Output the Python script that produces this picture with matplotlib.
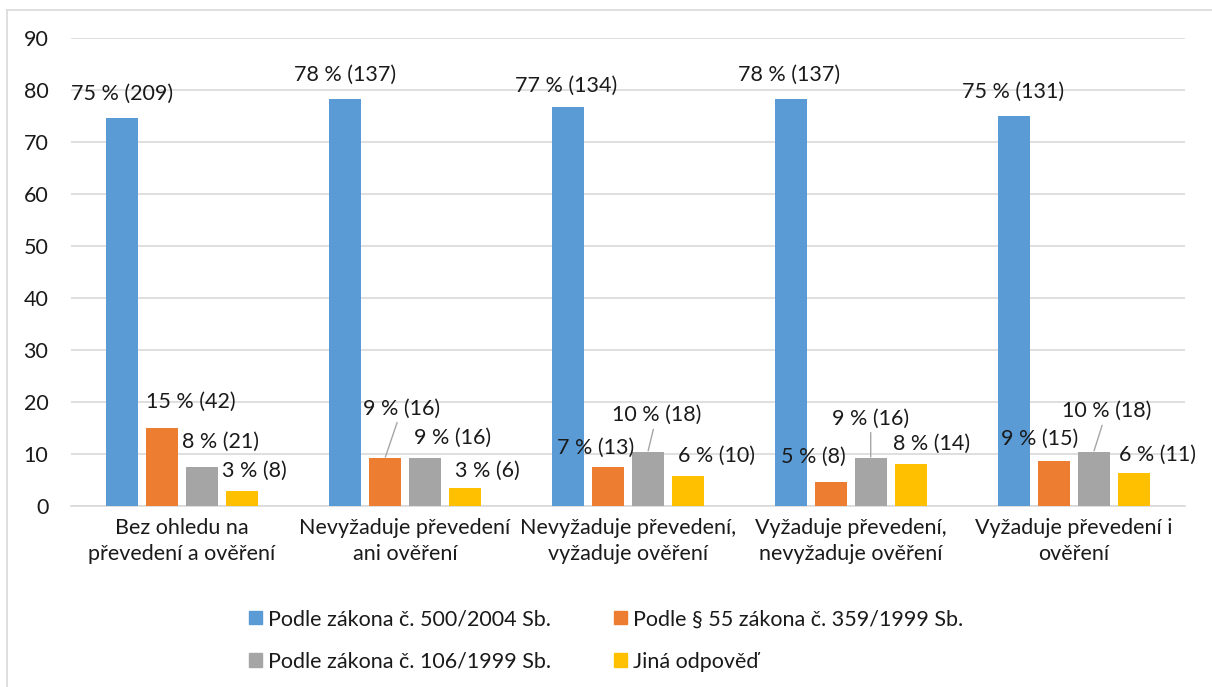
import numpy as np
import matplotlib.pyplot as plt
from matplotlib.patches import Patch
from matplotlib.lines import Line2D

plt.rcParams['font.family'] = ['Lato', 'DejaVu Sans']

# data
categories = ["Bez ohledu na\npřevedení a ověření",
              "Nevyžaduje převedení\nani ověření",
              "Nevyžaduje převedení,\nvyžaduje ověření",
              "Vyžaduje převedení,\nnevyžaduje ověření",
              "Vyžaduje převedení i\nověření"]
series = ["Podle zákona č. 500/2004 Sb.",
          "Podle § 55 zákona č. 359/1999 Sb.",
          "Podle zákona č. 106/1999 Sb.",
          "Jiná odpověď"]
zakon_500 = [74.6, 78.3, 76.6, 78.3, 74.9]
zakon_359 = [15.0, 9.1, 7.4, 4.6, 8.6]
zakon_106 = [7.5, 9.1, 10.3, 9.1, 10.3]
jina = [2.9, 3.4, 5.7, 8.0, 6.3]
counts_500 = [209, 137, 134, 137, 131]
counts_359 = [42, 16, 13, 8, 15]
counts_106 = [21, 16, 18, 16, 18]
counts_jina = [8, 6, 10, 14, 11]

colors = ['#5B9BD5', '#ED7D31', '#A5A5A5', '#FFC000']
txtcol = '#1A1A1A'
fs = 15.5

# label placement (pixels: dx, dy above bar top, leader line)
lab_off = [
    [(0, 24, False), (29, 26, False), (19, 25, False), (12, 20, False)],
    [(0, 24, False), (17, 50, True), (28, 21, False), (22, 17, False)],
    [(-2, 22, False), (-12, 19, False), (9, 37, True), (29, 20, False)],
    [(-2, 24, False), (-17, 25, False), (0, 40, True), (21, 20, False)],
    [(-1, 24, False), (-14, 22, False), (13, 41, True), (24, 18, False)],
]

vals = [zakon_500, zakon_359, zakon_106, jina]
cnts = [counts_500, counts_359, counts_106, counts_jina]

fig = plt.figure(figsize=(12.12, 6.87), dpi=100)
ax = fig.add_axes([0.0582, 0.2639, 0.9196, 0.6811])

x = np.arange(len(categories))
step = 40 / 223
width = 32 / 223
for k in range(4):
    pos = x + (k - 1.5) * step
    ax.bar(pos, vals[k], width, color=colors[k], zorder=3)
    for i in range(len(categories)):
        dx, dy, lead = lab_off[i][k]
        txt = "%d %% (%d)" % (round(vals[k][i]), cnts[k][i])
        arrow = None
        if lead:
            arrow = dict(arrowstyle='-', color='#A6A6A6', lw=1,
                         shrinkA=1, shrinkB=1)
        ax.annotate(txt, (pos[i], vals[k][i]), xytext=(dx, dy),
                    textcoords='offset pixels', ha='center', va='center',
                    fontsize=fs, color=txtcol, zorder=4, arrowprops=arrow)

ax.set_xlim(-0.5, 4.5)
ax.set_ylim(0, 90)
ax.set_yticks(range(0, 91, 10))
ax.set_xticks(x)
ax.set_xticklabels(categories, fontsize=fs, color=txtcol, linespacing=1.35)
ax.tick_params(axis='y', length=0, pad=16, labelsize=fs, labelcolor=txtcol)
ax.tick_params(axis='x', length=0, pad=9)
ax.yaxis.grid(True, color='#D9D9D9', lw=1.2, zorder=0)
for s in ['top', 'right', 'left']:
    ax.spines[s].set_visible(False)
ax.spines['bottom'].set_color('#D9D9D9')
ax.spines['bottom'].set_linewidth(1.2)

handles = [Patch(color=c) for c in colors]
order = [0, 2, 1, 3]
fig.legend([handles[j] for j in order], [series[j] for j in order],
           ncol=2, loc='center', bbox_to_anchor=(0.5, 0.0677), frameon=False,
           fontsize=fs, handlelength=0.6, handleheight=0.6, handletextpad=0.3,
           columnspacing=2.9, labelspacing=1.05, labelcolor=txtcol)

# outer chart border (only top and left are visible in the crop)
fig.add_artist(Line2D([7 / 1212, 7 / 1212], [0, 1 - 10 / 687],
                      transform=fig.transFigure, color='#D9D9D9', lw=1.2))
fig.add_artist(Line2D([7 / 1212, 1], [1 - 10 / 687, 1 - 10 / 687],
                      transform=fig.transFigure, color='#D9D9D9', lw=1.2))

fig.savefig('out.png', dpi=100)
